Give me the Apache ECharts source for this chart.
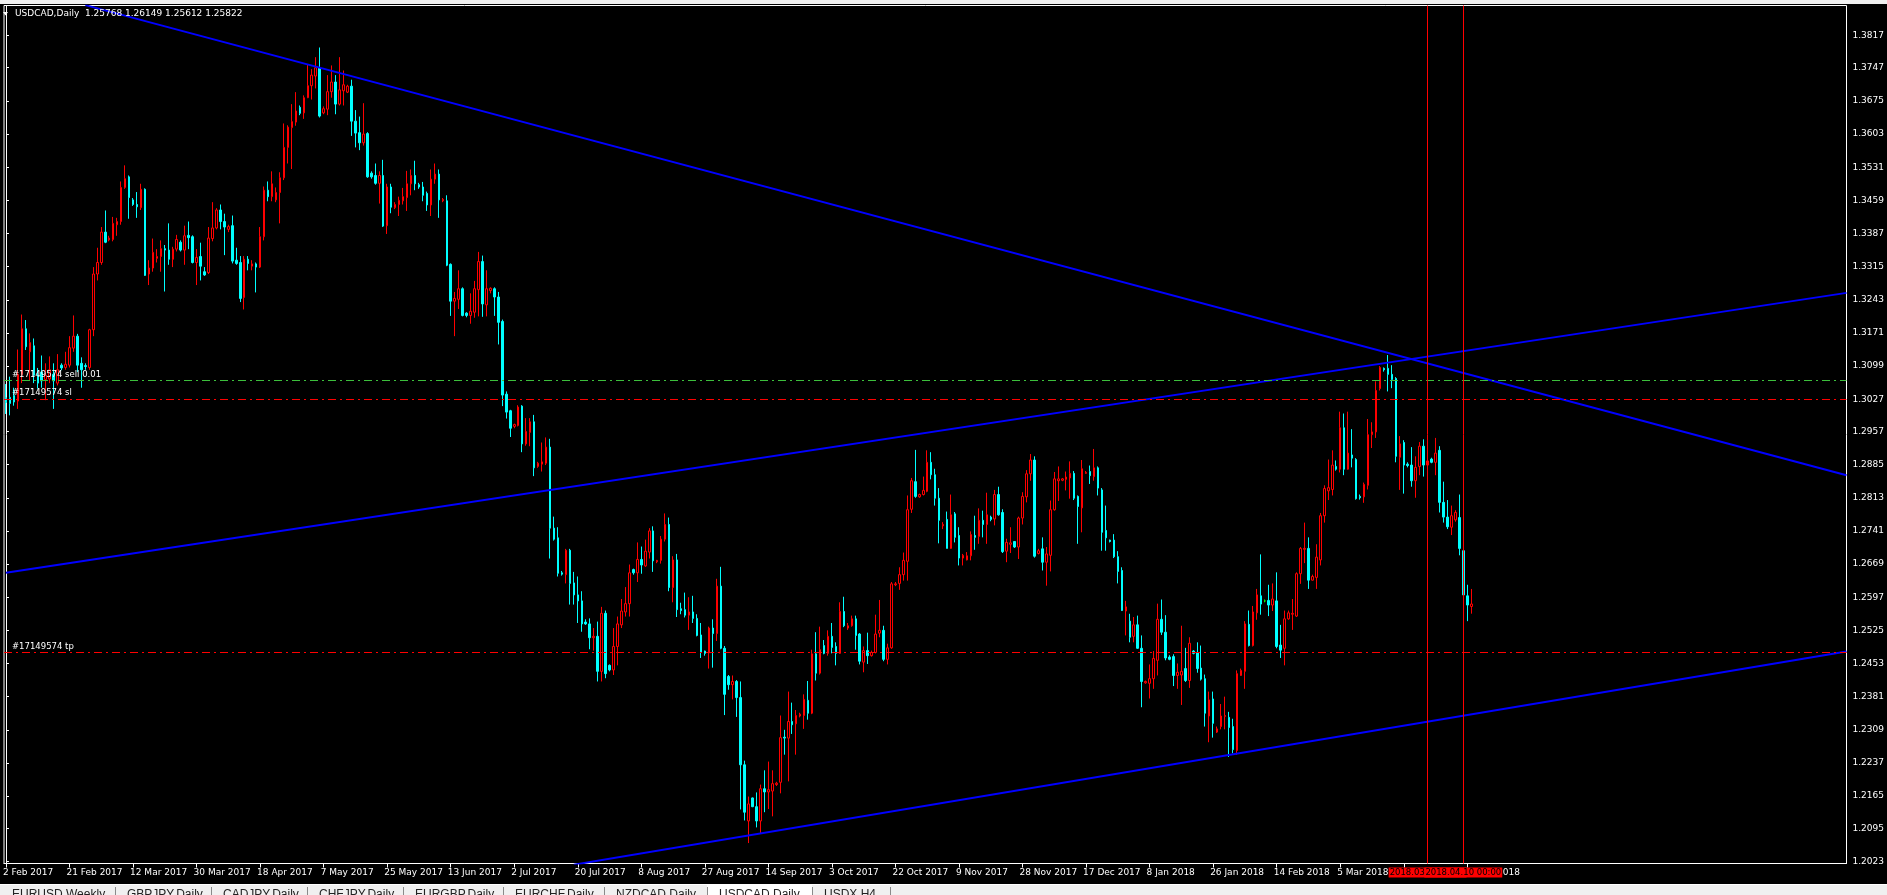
<!DOCTYPE html>
<html>
<head>
<meta charset="utf-8">
<title>USDCAD,Daily</title>
<script src="https://cdn.jsdelivr.net/npm/echarts@6.0.0/dist/echarts.min.js"></script>
<style>
  html, body { margin: 0; padding: 0; background: #000; overflow: hidden; }
  #chart { width: 1887px; height: 895px; }
</style>
</head>
<body>
<div id="chart"></div>
<script>
// 日线K线, 每根: [开, 高, 低, 收]  (从 2 Feb 2017 开始)
var ohlc = [
  [1.3030,1.3060,1.2995,1.3020],[1.3031,1.3076,1.2992,1.3018],[1.3035,1.3052,1.3013,1.3021],[1.3023,1.3135,1.3006,1.3081],[1.3081,1.3211,1.3062,1.3180],
  [1.3180,1.3199,1.3134,1.3141],[1.3130,1.3170,1.3068,1.3150],[1.3143,1.3159,1.3062,1.3079],[1.3079,1.3095,1.3050,1.3062],[1.3086,1.3122,1.3052,1.3067],
  [1.3070,1.3105,1.3025,1.3079],[1.3071,1.3120,1.3062,1.3091],[1.3081,1.3105,1.3006,1.3067],[1.3062,1.3125,1.3057,1.3091],[1.3101,1.3105,1.3090,1.3095],
  [1.3096,1.3130,1.3091,1.3103],[1.3101,1.3164,1.3096,1.3139],[1.3138,1.3209,1.3130,1.3164],[1.3164,1.3169,1.3086,1.3101],[1.3105,1.3118,1.3052,1.3091],
  [1.3100,1.3105,1.3091,1.3098],[1.3096,1.3180,1.3091,1.3178],[1.3178,1.3314,1.3164,1.3299],[1.3299,1.3356,1.3285,1.3324],[1.3324,1.3401,1.3319,1.3390],
  [1.3390,1.3437,1.3366,1.3368],[1.3373,1.3382,1.3370,1.3377],[1.3374,1.3423,1.3370,1.3409],[1.3406,1.3421,1.3382,1.3413],[1.3413,1.3500,1.3406,1.3487],
  [1.3487,1.3535,1.3484,1.3506],[1.3510,1.3513,1.3419,1.3465],[1.3460,1.3464,1.3447,1.3450],[1.3450,1.3477,1.3421,1.3445],[1.3443,1.3495,1.3438,1.3483],
  [1.3483,1.3485,1.3295,1.3296],[1.3299,1.3329,1.3275,1.3312],[1.3312,1.3376,1.3304,1.3346],[1.3333,1.3353,1.3324,1.3337],[1.3337,1.3372,1.3304,1.3354],
  [1.3354,1.3362,1.3261,1.3351],[1.3351,1.3409,1.3319,1.3331],[1.3331,1.3358,1.3314,1.3353],[1.3353,1.3384,1.3348,1.3374],[1.3368,1.3372,1.3348,1.3351],
  [1.3351,1.3404,1.3319,1.3382],[1.3383,1.3413,1.3353,1.3378],[1.3380,1.3383,1.3322,1.3324],[1.3324,1.3353,1.3275,1.3335],[1.3337,1.3367,1.3285,1.3316],
  [1.3304,1.3314,1.3295,1.3297],[1.3302,1.3401,1.3299,1.3377],[1.3376,1.3455,1.3370,1.3399],[1.3399,1.3442,1.3396,1.3438],[1.3438,1.3450,1.3396,1.3413],
  [1.3413,1.3430,1.3340,1.3401],[1.3396,1.3406,1.3390,1.3402],[1.3404,1.3426,1.3322,1.3327],[1.3329,1.3356,1.3319,1.3322],[1.3324,1.3338,1.3238,1.3246],
  [1.3248,1.3338,1.3222,1.3331],[1.3331,1.3338,1.3307,1.3322],[1.3316,1.3329,1.3307,1.3321],[1.3321,1.3324,1.3259,1.3314],[1.3314,1.3401,1.3312,1.3380],
  [1.3380,1.3489,1.3372,1.3481],[1.3481,1.3500,1.3457,1.3467],[1.3467,1.3522,1.3457,1.3495],[1.3460,1.3487,1.3455,1.3476],[1.3476,1.3520,1.3409,1.3508],
  [1.3508,1.3626,1.3503,1.3574],[1.3574,1.3622,1.3539,1.3618],[1.3617,1.3668,1.3527,1.3630],[1.3629,1.3694,1.3621,1.3653],[1.3661,1.3665,1.3644,1.3648],
  [1.3649,1.3687,1.3636,1.3682],[1.3682,1.3754,1.3681,1.3708],[1.3708,1.3744,1.3678,1.3731],[1.3729,1.3770,1.3702,1.3747],[1.3747,1.3791,1.3639,1.3642],
  [1.3649,1.3663,1.3646,1.3658],[1.3657,1.3731,1.3644,1.3695],[1.3695,1.3752,1.3682,1.3716],[1.3716,1.3731,1.3646,1.3668],[1.3668,1.3770,1.3665,1.3699],
  [1.3697,1.3741,1.3665,1.3710],[1.3694,1.3710,1.3692,1.3707],[1.3707,1.3721,1.3599,1.3631],[1.3631,1.3655,1.3574,1.3605],[1.3606,1.3641,1.3568,1.3584],
  [1.3584,1.3670,1.3578,1.3603],[1.3604,1.3607,1.3508,1.3510],[1.3518,1.3522,1.3506,1.3510],[1.3513,1.3539,1.3493,1.3496],[1.3496,1.3522,1.3452,1.3513],
  [1.3513,1.3547,1.3401,1.3403],[1.3404,1.3495,1.3386,1.3488],[1.3488,1.3495,1.3431,1.3444],[1.3443,1.3455,1.3440,1.3450],[1.3450,1.3467,1.3425,1.3459],
  [1.3458,1.3486,1.3450,1.3467],[1.3465,1.3523,1.3436,1.3495],[1.3495,1.3526,1.3470,1.3513],[1.3513,1.3545,1.3481,1.3495],[1.3493,1.3497,1.3484,1.3488],
  [1.3488,1.3499,1.3457,1.3470],[1.3474,1.3478,1.3436,1.3449],[1.3449,1.3526,1.3425,1.3505],[1.3505,1.3539,1.3495,1.3516],[1.3516,1.3526,1.3421,1.3460],
  [1.3458,1.3464,1.3455,1.3461],[1.3458,1.3470,1.3316,1.3318],[1.3320,1.3322,1.3208,1.3240],[1.3240,1.3260,1.3164,1.3246],[1.3244,1.3307,1.3223,1.3267],
  [1.3267,1.3270,1.3207,1.3209],[1.3214,1.3216,1.3205,1.3209],[1.3209,1.3257,1.3191,1.3218],[1.3216,1.3284,1.3204,1.3267],[1.3265,1.3347,1.3207,1.3326],
  [1.3326,1.3339,1.3206,1.3234],[1.3232,1.3307,1.3207,1.3267],[1.3263,1.3270,1.3257,1.3268],[1.3267,1.3270,1.3208,1.3249],[1.3249,1.3260,1.3146,1.3194],
  [1.3196,1.3200,1.3012,1.3036],[1.3038,1.3044,1.2985,1.2999],[1.3002,1.3004,1.2945,1.2964],[1.2968,1.2974,1.2964,1.2972],[1.2970,1.3014,1.2968,1.3010],
  [1.3012,1.3014,1.2912,1.2930],[1.2930,1.2986,1.2926,1.2957],[1.2955,1.2986,1.2925,1.2978],[1.2978,1.2993,1.2860,1.2878],[1.2881,1.2891,1.2878,1.2888],
  [1.2886,1.2933,1.2870,1.2891],[1.2888,1.2944,1.2884,1.2923],[1.2923,1.2941,1.2681,1.2747],[1.2747,1.2772,1.2720,1.2723],[1.2726,1.2749,1.2642,1.2649],
  [1.2650,1.2654,1.2644,1.2647],[1.2646,1.2702,1.2627,1.2699],[1.2699,1.2702,1.2581,1.2627],[1.2628,1.2652,1.2581,1.2602],[1.2602,1.2642,1.2541,1.2589],
  [1.2589,1.2610,1.2522,1.2539],[1.2543,1.2549,1.2537,1.2539],[1.2539,1.2551,1.2484,1.2509],[1.2509,1.2530,1.2481,1.2512],[1.2512,1.2544,1.2414,1.2436],
  [1.2436,1.2576,1.2414,1.2562],[1.2562,1.2568,1.2421,1.2431],[1.2449,1.2451,1.2436,1.2439],[1.2439,1.2530,1.2428,1.2490],[1.2490,1.2555,1.2449,1.2539],
  [1.2537,1.2593,1.2530,1.2567],[1.2565,1.2619,1.2555,1.2583],[1.2583,1.2668,1.2555,1.2650],[1.2657,1.2659,1.2646,1.2650],[1.2650,1.2716,1.2630,1.2679],
  [1.2679,1.2707,1.2648,1.2667],[1.2665,1.2722,1.2663,1.2697],[1.2695,1.2747,1.2681,1.2741],[1.2741,1.2751,1.2652,1.2676],[1.2674,1.2678,1.2671,1.2677],
  [1.2677,1.2730,1.2670,1.2723],[1.2723,1.2779,1.2718,1.2755],[1.2755,1.2770,1.2610,1.2618],[1.2618,1.2686,1.2586,1.2678],[1.2678,1.2691,1.2554,1.2570],
  [1.2572,1.2585,1.2560,1.2568],[1.2570,1.2607,1.2553,1.2558],[1.2558,1.2597,1.2526,1.2565],[1.2565,1.2600,1.2541,1.2551],[1.2551,1.2560,1.2512,1.2514],
  [1.2515,1.2541,1.2465,1.2478],[1.2480,1.2481,1.2470,1.2475],[1.2476,1.2533,1.2442,1.2530],[1.2530,1.2549,1.2444,1.2518],[1.2518,1.2637,1.2502,1.2621],
  [1.2621,1.2663,1.2484,1.2486],[1.2486,1.2491,1.2341,1.2386],[1.2425,1.2428,1.2396,1.2407],[1.2407,1.2427,1.2375,1.2414],[1.2414,1.2417,1.2337,1.2379],
  [1.2379,1.2414,1.2136,1.2233],[1.2233,1.2242,1.2112,1.2130],[1.2111,1.2164,1.2063,1.2148],[1.2161,1.2162,1.2141,1.2142],[1.2142,1.2173,1.2097,1.2111],
  [1.2111,1.2190,1.2083,1.2181],[1.2181,1.2221,1.2130,1.2174],[1.2174,1.2240,1.2137,1.2179],[1.2176,1.2221,1.2121,1.2192],[1.2190,1.2196,1.2187,1.2193],
  [1.2195,1.2340,1.2171,1.2292],[1.2293,1.2309,1.2255,1.2291],[1.2291,1.2392,1.2197,1.2327],[1.2327,1.2368,1.2300,1.2320],[1.2322,1.2352,1.2255,1.2340],
  [1.2339,1.2346,1.2336,1.2343],[1.2340,1.2386,1.2311,1.2375],[1.2373,1.2415,1.2331,1.2345],[1.2345,1.2483,1.2343,1.2474],[1.2474,1.2521,1.2416,1.2432],
  [1.2432,1.2533,1.2429,1.2483],[1.2492,1.2504,1.2473,1.2475],[1.2475,1.2525,1.2470,1.2512],[1.2512,1.2541,1.2475,1.2488],[1.2490,1.2499,1.2449,1.2475],
  [1.2475,1.2586,1.2474,1.2566],[1.2566,1.2598,1.2532,1.2535],[1.2530,1.2541,1.2526,1.2535],[1.2535,1.2557,1.2533,1.2550],[1.2550,1.2557,1.2483,1.2514],
  [1.2517,1.2519,1.2451,1.2458],[1.2456,1.2490,1.2434,1.2481],[1.2481,1.2520,1.2452,1.2470],[1.2470,1.2481,1.2468,1.2477],[1.2477,1.2559,1.2475,1.2517],
  [1.2519,1.2591,1.2510,1.2525],[1.2525,1.2535,1.2458,1.2462],[1.2462,1.2496,1.2451,1.2487],[1.2487,1.2630,1.2485,1.2626],[1.2624,1.2630,1.2621,1.2626],
  [1.2627,1.2662,1.2613,1.2646],[1.2646,1.2694,1.2633,1.2677],[1.2675,1.2818,1.2633,1.2787],[1.2788,1.2856,1.2780,1.2850],[1.2848,1.2917,1.2813,1.2816],
  [1.2815,1.2822,1.2813,1.2820],[1.2820,1.2859,1.2818,1.2829],[1.2827,1.2916,1.2825,1.2890],[1.2890,1.2912,1.2853,1.2863],[1.2863,1.2876,1.2796,1.2812],
  [1.2812,1.2834,1.2714,1.2764],[1.2752,1.2760,1.2745,1.2755],[1.2766,1.2783,1.2703,1.2703],[1.2703,1.2820,1.2702,1.2776],[1.2778,1.2782,1.2716,1.2727],
  [1.2731,1.2749,1.2666,1.2682],[1.2682,1.2691,1.2666,1.2688],[1.2678,1.2695,1.2677,1.2687],[1.2687,1.2740,1.2677,1.2733],[1.2731,1.2774,1.2700,1.2727],
  [1.2729,1.2790,1.2713,1.2764],[1.2764,1.2785,1.2727,1.2755],[1.2755,1.2824,1.2713,1.2776],[1.2771,1.2774,1.2762,1.2766],[1.2767,1.2830,1.2753,1.2820],
  [1.2820,1.2837,1.2774,1.2776],[1.2781,1.2788,1.2693,1.2696],[1.2697,1.2724,1.2673,1.2716],[1.2712,1.2749,1.2693,1.2715],[1.2718,1.2719,1.2704,1.2706],
  [1.2706,1.2772,1.2680,1.2769],[1.2769,1.2825,1.2755,1.2816],[1.2815,1.2873,1.2803,1.2865],[1.2865,1.2908,1.2850,1.2895],[1.2895,1.2903,1.2683,1.2686],
  [1.2692,1.2702,1.2690,1.2698],[1.2702,1.2727,1.2655,1.2673],[1.2673,1.2706,1.2622,1.2691],[1.2688,1.2807,1.2653,1.2787],[1.2787,1.2869,1.2785,1.2854],
  [1.2850,1.2881,1.2806,1.2854],[1.2851,1.2856,1.2849,1.2854],[1.2853,1.2870,1.2829,1.2858],[1.2856,1.2892,1.2811,1.2866],[1.2866,1.2871,1.2808,1.2812],
  [1.2816,1.2818,1.2713,1.2794],[1.2791,1.2895,1.2738,1.2876],[1.2866,1.2871,1.2865,1.2868],[1.2870,1.2883,1.2843,1.2861],[1.2859,1.2919,1.2850,1.2878],
  [1.2878,1.2881,1.2818,1.2834],[1.2830,1.2834,1.2698,1.2738],[1.2742,1.2796,1.2698,1.2726],[1.2721,1.2722,1.2716,1.2718],[1.2721,1.2734,1.2682,1.2685],
  [1.2685,1.2697,1.2627,1.2653],[1.2655,1.2662,1.2567,1.2568],[1.2567,1.2589,1.2514,1.2576],[1.2545,1.2561,1.2499,1.2510],[1.2512,1.2554,1.2499,1.2537],
  [1.2537,1.2557,1.2485,1.2486],[1.2486,1.2514,1.2358,1.2414],[1.2411,1.2416,1.2409,1.2414],[1.2410,1.2451,1.2377,1.2420],[1.2420,1.2480,1.2398,1.2464],
  [1.2460,1.2583,1.2427,1.2549],[1.2549,1.2592,1.2515,1.2521],[1.2521,1.2558,1.2460,1.2465],[1.2467,1.2471,1.2460,1.2462],[1.2468,1.2473,1.2404,1.2427],
  [1.2427,1.2453,1.2398,1.2434],[1.2428,1.2535,1.2363,1.2436],[1.2442,1.2487,1.2413,1.2416],[1.2416,1.2510,1.2400,1.2497],[1.2480,1.2482,1.2473,1.2475],
  [1.2477,1.2499,1.2433,1.2442],[1.2443,1.2492,1.2416,1.2419],[1.2420,1.2429,1.2316,1.2345],[1.2339,1.2392,1.2282,1.2374],[1.2376,1.2392,1.2292,1.2323],
  [1.2304,1.2316,1.2302,1.2311],[1.2316,1.2365,1.2310,1.2339],[1.2338,1.2381,1.2310,1.2340],[1.2336,1.2348,1.2250,1.2314],[1.2316,1.2333,1.2258,1.2266],
  [1.2264,1.2438,1.2255,1.2431],[1.2427,1.2442,1.2426,1.2438],[1.2436,1.2545,1.2398,1.2539],[1.2538,1.2568,1.2490,1.2492],[1.2492,1.2578,1.2490,1.2565],
  [1.2563,1.2615,1.2548,1.2602],[1.2600,1.2690,1.2559,1.2582],[1.2589,1.2592,1.2586,1.2589],[1.2590,1.2624,1.2556,1.2580],[1.2580,1.2627,1.2567,1.2593],
  [1.2589,1.2651,1.2486,1.2490],[1.2493,1.2537,1.2465,1.2482],[1.2486,1.2568,1.2449,1.2550],[1.2550,1.2568,1.2548,1.2563],[1.2560,1.2593,1.2526,1.2562],
  [1.2556,1.2651,1.2554,1.2648],[1.2648,1.2706,1.2626,1.2703],[1.2701,1.2759,1.2671,1.2703],[1.2703,1.2727,1.2615,1.2634],[1.2634,1.2646,1.2633,1.2642],
  [1.2640,1.2712,1.2615,1.2684],[1.2678,1.2780,1.2666,1.2774],[1.2774,1.2840,1.2759,1.2833],[1.2828,1.2896,1.2808,1.2835],[1.2831,1.2916,1.2818,1.2884],
  [1.2881,1.2894,1.2872,1.2875],[1.2875,1.3000,1.2868,1.2965],[1.2965,1.2996,1.2862,1.2875],[1.2875,1.3000,1.2874,1.2910],[1.2906,1.2962,1.2879,1.2899],
  [1.2896,1.2899,1.2809,1.2811],[1.2816,1.2820,1.2809,1.2813],[1.2815,1.2846,1.2802,1.2842],[1.2840,1.2984,1.2831,1.2950],[1.2950,1.2977,1.2921,1.2956],
  [1.2956,1.3066,1.2943,1.3046],[1.3050,1.3099,1.3046,1.3096],[1.3094,1.3096,1.3087,1.3091],[1.3094,1.3123,1.3044,1.3081],[1.3081,1.3101,1.3051,1.3070],
  [1.3072,1.3075,1.2890,1.2903],[1.2901,1.2947,1.2830,1.2930],[1.2933,1.2938,1.2822,1.2884],[1.2886,1.2890,1.2879,1.2883],[1.2884,1.2923,1.2837,1.2850],
  [1.2850,1.2903,1.2813,1.2879],[1.2881,1.2934,1.2862,1.2925],[1.2925,1.2940,1.2859,1.2884],[1.2884,1.2903,1.2882,1.2893],[1.2897,1.2900,1.2888,1.2890],
  [1.2890,1.2943,1.2862,1.2910],[1.2916,1.2925,1.2781,1.2803],[1.2803,1.2848,1.2759,1.2771],[1.2771,1.2808,1.2745,1.2750],[1.2749,1.2796,1.2732,1.2774],
  [1.2765,1.2786,1.2761,1.2781],[1.2770,1.2820,1.2688,1.2703],[1.2698,1.2710,1.2600,1.2602],[1.2600,1.2624,1.2545,1.2580],[1.25768,1.26149,1.25612,1.25822]
];

// 时间轴标签 (每16根K线一个)
var dateLabels = ['2 Feb 2017','21 Feb 2017','12 Mar 2017','30 Mar 2017','18 Apr 2017','7 May 2017','25 May 2017',
  '13 Jun 2017','2 Jul 2017','20 Jul 2017','8 Aug 2017','27 Aug 2017','14 Sep 2017','3 Oct 2017','22 Oct 2017',
  '9 Nov 2017','28 Nov 2017','17 Dec 2017','8 Jan 2018','26 Jan 2018','14 Feb 2018','5 Mar 2018','23 Mar 2018','11 Apr 2018'];
var labelStep = 16;

// 右侧价格刻度
var priceTicks = [1.3817,1.3747,1.3675,1.3603,1.3531,1.3459,1.3387,1.3315,1.3243,1.3171,1.3099,1.3027,1.2957,
  1.2885,1.2813,1.2741,1.2669,1.2597,1.2525,1.2453,1.2381,1.2309,1.2237,1.2165,1.2095,1.2023];

var headerValues = ['1.25768','1.26149','1.25612','1.25822'];
var lastPrice = 1.2582;

// 订单线: 开仓 / 止损 / 止盈
var levelPrices = [1.3069, 1.3028, 1.2478];
var levelNames = ['#17149574 sell 0.01', '#17149574 sl', '#17149574 tp'];

// 趋势线 [K线序号, 价格]
var lineDown = [[20, 1.3883], [463.5, 1.2862]];
var lineUpTop = [[0, 1.2650], [463.5, 1.3258]];
var lineUpLow = [[143, 1.2016], [463.5, 1.2479]];

// 竖线
var vLineBars = [358, 367];
var vLineTexts = ['2018.03.29 00:00', '2018.04.10 00:00'];

// 底部标签页
var tabNames = ['EURUSD,Weekly','GBPJPY,Daily','CADJPY,Daily','CHFJPY,Daily','EURGBP,Daily','EURCHF,Daily','NZDCAD,Daily','USDCAD,Daily','USDX,H4'];
var tabX = [0, 115, 211, 307, 403, 503, 604, 707, 812, 890];
var activeTab = 7;

var slotCount = 464;
var slots = [];
for (var i = 0; i < slotCount; i++) slots.push(i);

// echarts 要的格式: [开, 收, 低, 高]
var candleData = ohlc.map(function (r) { return [r[0], r[3], r[2], r[1]]; });

var FONT = 'DejaVu Sans';
var UI_FONT = 'Liberation Sans';
var FS = 9;
var myChart = echarts.init(document.getElementById('chart'));

var graphics = [
  { type: 'rect', shape: { x: 0, y: 0, width: 1887, height: 4 }, style: { fill: '#f0f0f0' }, z: 10 },
  { type: 'polygon', shape: { points: [[3, 12], [8, 12], [5.5, 15.5]] }, style: { fill: '#fff' }, z: 10 },
  { type: 'text', x: 15, y: 9, z: 10,
    style: { text: 'USDCAD,Daily  ' + headerValues.join(' '), fill: '#fff', font: FS + 'px "' + FONT + '"' } },
  { type: 'rect', shape: { x: 0, y: 884, width: 1887, height: 11 }, style: { fill: '#f0f0f0' }, z: 10 },
  { type: 'rect', shape: { x: 0, y: 884, width: 1887, height: 1 }, style: { fill: '#ffffff' }, z: 10 }
];
tabNames.forEach(function (name, k) {
  if (k === activeTab) {
    graphics.push({ type: 'rect', shape: { x: tabX[k], y: 885, width: tabX[k + 1] - tabX[k], height: 10 },
      style: { fill: '#ffffff' }, z: 10 });
  }
  graphics.push({ type: 'rect', shape: { x: tabX[k + 1], y: 887, width: 1, height: 8 }, style: { fill: '#8a8a8a' }, z: 11 });
  graphics.push({ type: 'text', x: tabX[k] + 12, y: 889, z: 11,
    style: { text: name, fill: '#222', font: '12px "' + UI_FONT + '"' } });
});

function levelLine(k, color) {
  return {
    yAxis: levelPrices[k],
    lineStyle: { color: color, type: [8, 4, 2, 4], width: 1 },
    label: { show: true, position: 'insideStartTop', formatter: levelNames[k], color: '#fff',
      fontSize: 8.5, fontFamily: FONT, distance: [8, 1] }
  };
}
function vLine(k) {
  return {
    xAxis: vLineBars[k],
    lineStyle: { color: '#ff0000', type: 'solid', width: 1 },
    label: { show: true, position: 'start', formatter: vLineTexts[k], color: '#000', backgroundColor: '#ff0000',
      fontSize: 8.5, fontFamily: FONT, padding: [1, 1, 0, 1], distance: 4 }
  };
}
function trend(pts) {
  return { type: 'line', xAxisIndex: 1, yAxisIndex: 0, data: pts, symbol: 'none', silent: true, clip: true,
    lineStyle: { color: '#0000ff', width: 2 }, z: 3 };
}

var option = {
  backgroundColor: '#000',
  animation: false,
  textStyle: { fontFamily: FONT },
  graphic: graphics,
  grid: { left: -2.5, right: 33.5, top: 5.5, bottom: 31.5, show: true, borderColor: '#fff', borderWidth: 1 },
  xAxis: [
    {
      type: 'category', data: slots, boundaryGap: true,
      axisLine: { lineStyle: { color: '#fff', width: 1 } },
      axisTick: { show: true, alignWithLabel: true, length: 4, lineStyle: { color: '#fff' },
        interval: function (idx) { return idx % labelStep === 0 && idx / labelStep < dateLabels.length; } },
      axisLabel: { color: '#fff', fontSize: FS, fontFamily: FONT, align: 'left', margin: 5, padding: [0, 0, 0, -3],
        interval: function (idx) { return idx % labelStep === 0 && idx / labelStep < dateLabels.length; },
        formatter: function (v, idx) { return dateLabels[idx / labelStep] || ''; } },
      splitLine: { show: false }
    },
    { type: 'value', min: -0.5, max: slotCount - 0.5, show: false }
  ],
  yAxis: {
    type: 'value', position: 'right', min: 1.20186, max: 1.38822, scale: true,
    axisLine: { show: true, lineStyle: { color: '#fff', width: 1 } },
    axisTick: { show: true, length: 3, lineStyle: { color: '#fff' }, customValues: priceTicks },
    axisLabel: { color: '#fff', fontSize: FS, fontFamily: FONT, margin: 6, customValues: priceTicks,
      formatter: function (v) { return v.toFixed(4); } },
    splitLine: { show: false }
  },
  series: [
    {
      type: 'candlestick', xAxisIndex: 0, yAxisIndex: 0, data: candleData, barWidth: 2, silent: true,
      itemStyle: { color: '#000000', color0: '#00ffff', borderColor: '#ff0000', borderColor0: '#00ffff',
        borderColorDoji: '#00ff00', borderWidth: 1 },
      markLine: {
        silent: true, symbol: ['none', 'none'], animation: false, precision: 4,
        data: [
          levelLine(0, '#3cbf3c'),
          levelLine(1, '#ff0000'),
          levelLine(2, '#ff0000'),
          vLine(0),
          vLine(1),
          { yAxis: lastPrice, lineStyle: { opacity: 0 },
            label: { show: true, position: 'end', formatter: lastPrice.toFixed(4), color: '#000',
              backgroundColor: '#fff', fontSize: FS, fontFamily: FONT, padding: [1, 8, 0, 5], distance: 1 } }
        ]
      }
    },
    trend(lineDown),
    trend(lineUpTop),
    trend(lineUpLow)
  ]
};

myChart.setOption(option);
window.addEventListener('resize', function () { myChart.resize(); });
</script>
</body>
</html>
